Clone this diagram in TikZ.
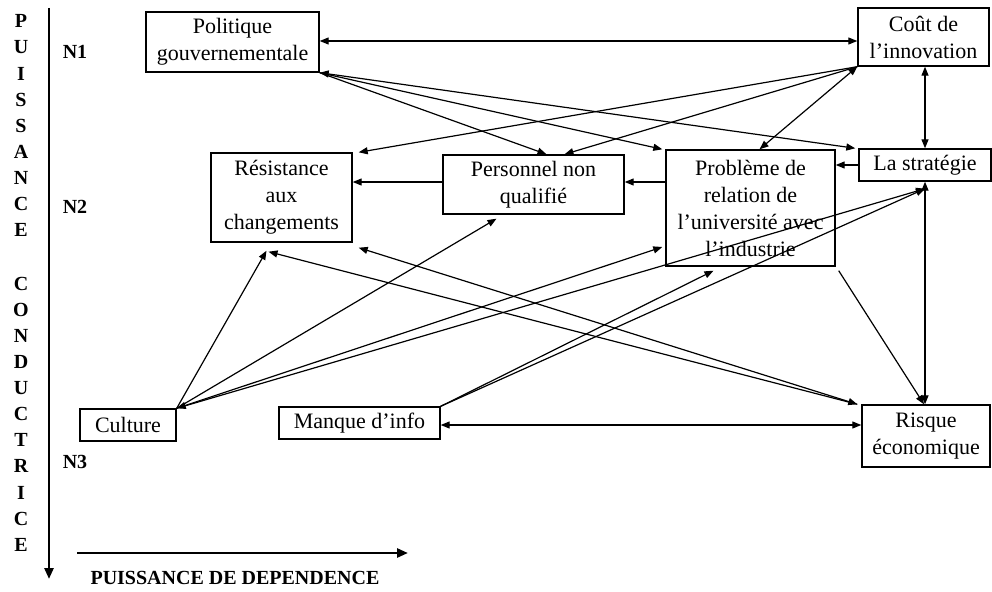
\documentclass[tikz,border=0pt]{standalone}
\usepackage{fontspec}
\setmainfont{Liberation Serif}
\usetikzlibrary{arrows.meta,calc}
\begin{document}
\begin{tikzpicture}[x=1pt,y=-1pt,
  box/.style={draw,line width=1.4pt,inner sep=0pt,align=center,font=\fontsize{22}{27}\selectfont},
  tip/.tip={Triangle[length=9pt,width=7pt]},
  lnk/.style={line width=1.2pt,-tip},
  dbl/.style={line width=1.2pt,tip-tip},
  axis/.style={line width=2.6pt,-{Triangle[length=11pt,width=9pt]}},
  lbl/.style={font=\bfseries\fontsize{20}{24}\selectfont,inner sep=0pt}
]
\useasboundingbox (0,0) rectangle (992,591);

% boxes
\node[box,minimum width=173pt,minimum height=60pt] (pol) at (232.5,42) {Politique\\gouvernementale};
\node[box,minimum width=131pt,minimum height=58pt] (cout) at (923.5,37) {Coût de\\l’innovation};
\node[box,minimum width=141pt,minimum height=89pt] (res) at (281.5,197.5) {Résistance\\aux\\changements};
\node[box,minimum width=181pt,minimum height=59pt] (pers) at (533.5,184.5) {Personnel non\\qualifié};
\node[box,minimum width=169pt,minimum height=116pt] (prob) at (750.5,208) {Problème de\\relation de\\l’université avec\\l’industrie};
\node[box,minimum width=132pt,minimum height=32pt] (strat) at (925,165) {La stratégie};
\node[box,minimum width=96pt,minimum height=32pt] (cul) at (128,425) {Culture};
\node[box,minimum width=161pt,minimum height=32pt] (man) at (359.5,423) {Manque d’info};
\node[box,minimum width=128pt,minimum height=62pt] (risk) at (926,436) {Risque\\économique};

% connectors
\draw[dbl] (pol.east |- 0,41) -- (cout.west |- 0,41);
\draw[lnk] (pol.south east) -- ([xshift=13pt]pers.north);
\draw[lnk] (pol.south east) -- ([xshift=-3pt]prob.north west);
\draw[dbl] (pol.south east) -- ([xshift=-3pt]strat.north west);

\draw[lnk] (cout.south west) -- ([xshift=6pt]res.north east);
\draw[lnk] (cout.south west) -- ([xshift=31pt]pers.north);
\draw[dbl] (cout.south west) -- ([xshift=9pt]prob.north);
\draw[dbl] (cout.south -| strat.north) -- (strat.north);

\draw[lnk] (strat.west) -- (strat.west -| prob.east);
\draw[lnk] (prob.west |- 0,182) -- (pers.east |- 0,182);
\draw[lnk] (pers.west |- 0,182) -- (res.east |- 0,182);
\draw[dbl] (strat.south) -- (strat.south |- risk.north);
\draw[lnk] ([shift={(3pt,-4pt)}]prob.south east) -- ([xshift=-2pt]risk.north);

\draw[lnk] (cul.north east) -- ([shift={(-15pt,-8pt)}]res.south);
\draw[lnk] (cul.north east) -- ([shift={(-37pt,-4pt)}]pers.south);
\draw[dbl] (cul.north east) -- ([shift={(-3pt,-39pt)}]prob.west);
\draw[lnk] (cul.north east) -- ([yshift=-7pt]strat.south);

\draw[lnk] (man.north east) -- ([shift={(-37pt,-4pt)}]prob.south);
\draw[lnk] (man.north east) -- ([yshift=-7pt]strat.south);
\draw[dbl] (man.east |- 0,425) -- (risk.west |- 0,425);

\draw[lnk] ([xshift=-4pt]risk.north west) -- ([shift={(-13pt,-9pt)}]res.south);
\draw[dbl] ([xshift=-4pt]risk.north west) -- ([shift={(6pt,-5pt)}]res.south east);

% axes
\coordinate (v0) at (49,8);
\coordinate (v1) at (49,579);
\coordinate (h0) at (77,553);
\coordinate (h1) at (408,553);
\draw[axis] (v0) -- (v1);
\draw[axis] (h0) -- (h1);

% labels
\node[lbl] (n1) at (75,52) {N1};
\node[lbl] (n2) at (75,207) {N2};
\node[lbl] (n3) at (75,462) {N3};
\node[lbl] (xlab) at (235,578) {PUISSANCE DE DEPENDENCE};
\foreach \l/\y [count=\i] in {P/21,U/47,I/74,S/100,S/126,A/152,N/178,C/204,E/230,C/284,O/310,N/336,D/362,U/388,C/414,T/440,R/466,I/493,C/519,E/545}
  \node[lbl] (v\i) at (21,\y) {\l};
\end{tikzpicture}
\end{document}
